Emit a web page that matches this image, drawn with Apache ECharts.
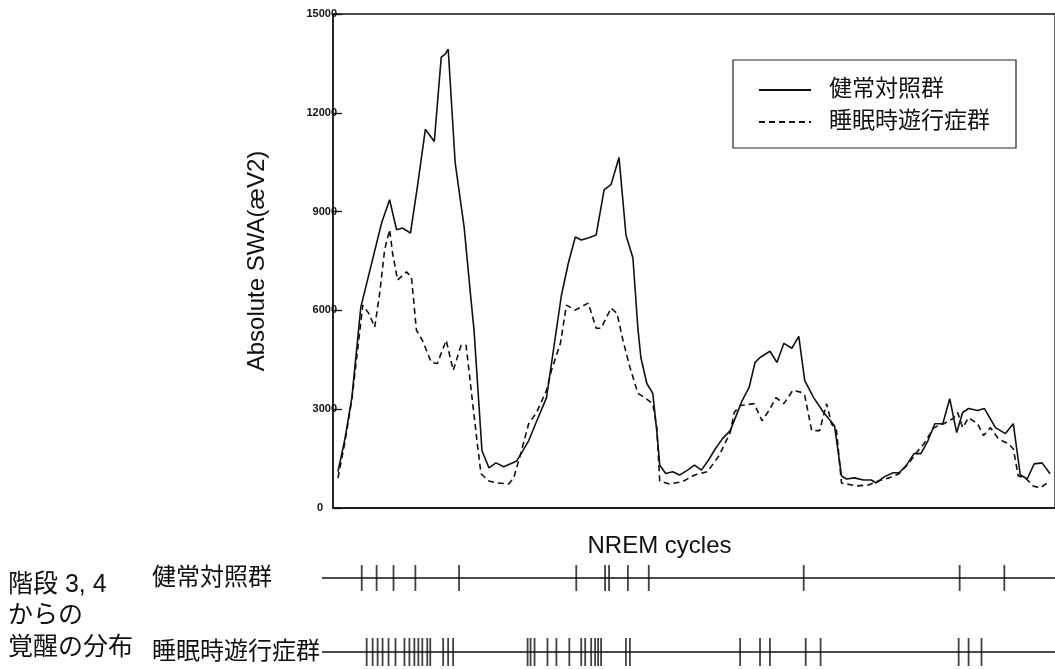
<!DOCTYPE html>
<html>
<head>
<meta charset="utf-8">
<script src="https://cdn.jsdelivr.net/npm/echarts@6/dist/echarts.min.js"></script>
<style>html,body{margin:0;padding:0;background:#fff}#c{width:1055px;height:669px}</style>
</head>
<body>
<div id="c"></div>
<script>
// ---- data ----
const seriesNames = ['健常対照群', '睡眠時遊行症群'];
// [time index (NREM epochs), absolute SWA]
const controlSWA = [[1,1100],[2.4,2100],[3.8,3350],[5.6,6100],[9.8,8660],[11.4,9360],[12.8,8450],[14,8500],[15.6,8350],[17,9760],[18.6,11500],[20.4,11130],[21.8,13690],[22.6,13780],[23.2,13930],[24.6,10490],[26.4,8540],[27.8,6310],[28.4,5400],[30,1740],[31.4,1220],[32.8,1370],[34.4,1250],[37,1430],[38,1680],[39.4,2040],[40.8,2560],[43,3350],[46,6460],[47.4,7440],[48.8,8230],[50,8140],[51.4,8200],[53,8290],[54.6,9670],[56,9820],[57.6,10640],[59,8290],[60.4,7590],[61.4,5460],[62,4570],[63.2,3780],[64.4,3480],[65.2,2350],[65.8,1300],[67,1050],[68.4,1100],[69.8,1000],[71.4,1150],[72.8,1300],[74.2,1150],[75.6,1450],[77,1800],[78.4,2100],[80,2350],[82.4,3260],[83.8,3660],[85,4420],[86,4570],[88,4760],[89.4,4420],[90.8,5000],[92.4,4850],[93.8,5210],[95,3870],[96.8,3350],[98.8,2900],[101,2500],[102.4,975],[103.4,880],[105,915],[106.8,850],[108.4,850],[109.4,760],[111,945],[112.8,1070],[114,1070],[115.4,1280],[117,1650],[118.4,1650],[119.8,2040],[121.2,2560],[122.8,2560],[124.2,3320],[125.6,2290],[126.8,2900],[128,3020],[129.8,2960],[131.2,3020],[133.4,2440],[135.4,2260],[137,2560],[138.4,1010],[139.8,880],[141.2,1340],[142.8,1370],[144.4,1040]];
const sleepwalkSWA = [[1,910],[2.4,2000],[3.8,3300],[6,6160],[7.2,5910],[8.4,5490],[9.4,6520],[10.4,7840],[11.4,8450],[12,7740],[13,6920],[14.8,7170],[15.8,7010],[16.8,5400],[18,5090],[19.8,4420],[21,4390],[22.8,5090],[24.2,4180],[25.8,4940],[26.8,4940],[28,3350],[29,2040],[29.8,1040],[31.4,820],[33,760],[35.4,730],[36.4,915],[37.8,1650],[39.4,2560],[41,2900],[43,3570],[44,4180],[45.8,5000],[47,6160],[48.8,6010],[51.4,6220],[53,5460],[54,5460],[56,6070],[57.2,5910],[58.4,5090],[59.8,4270],[61.4,3480],[62.8,3350],[64.4,3170],[65.2,2440],[65.8,820],[67.8,730],[70.4,800],[72.8,1000],[75.4,1100],[77.8,1600],[80,2300],[80.8,2900],[82,3110],[84.8,3170],[86.4,2650],[87.8,2960],[89.2,3350],[90.8,3170],[92.6,3570],[94.4,3510],[95,3420],[96.4,2350],[98,2350],[99.4,3170],[100.4,2560],[101.4,2350],[102.4,760],[105.4,670],[107.8,700],[109.8,820],[112,915],[114,1040],[116,1370],[117.8,1740],[119,1950],[121,2440],[123,2560],[124.8,2710],[125.8,2900],[126.8,2440],[128,2740],[129.8,2560],[131,2200],[132.4,2440],[134,2100],[136,1950],[137,1800],[138,975],[139.4,915],[141,670],[142.4,610],[144.4,820]];
// arousals from stage 3,4 (time index)
const controlArousals = [5.8,8.8,12.2,16.6,25.4,49,54.8,55.6,59.4,63.6,94.8,126.2,135.2];
const sleepwalkArousals = [6.8,8,9,10,11.2,12.6,14.4,15.4,16.4,17.2,18,19,19.6,22.2,23.2,24.2,39.2,39.8,40.6,43.2,45,47.6,50,50.8,52,52.8,53.4,54,59,59.8,82,86,88,95.2,98.2,126,128,130.6];
const yTicks = [0, 3000, 6000, 9000, 12000, 15000];
const yAxisTitle = 'Absolute SWA(æV2)';
const xAxisTitle = 'NREM cycles';
const sideLabel = '階段 3, 4\nからの\n覚醒の分布';

// ---- chart ----
const FONT = "'Liberation Sans', 'Noto Sans CJK JP', sans-serif";
const chart = echarts.init(document.getElementById('c'), null, {renderer: 'canvas'});
const XMAX = 145.4;
const option = {
  animation: false,
  backgroundColor: '#fff',
  textStyle: {fontFamily: FONT, color: '#111'},
  title: {
    text: sideLabel, left: 8, top: 569, padding: 0,
    textStyle: {fontSize: 25, fontWeight: 'normal', color: '#111', lineHeight: 31.5, fontFamily: FONT}
  },
  legend: {
    data: seriesNames,
    orient: 'vertical', left: 733, top: 60,
    borderColor: '#222', borderWidth: 1.2, borderRadius: 0,
    padding: [18, 26, 14, 25],
    itemWidth: 52, itemHeight: 14, itemGap: 8,
    itemStyle: {opacity: 0},
    textStyle: {fontSize: 23, lineHeight: 24, color: '#111', padding: [0, 0, 0, 13], fontFamily: FONT},
    selectedMode: false
  },
  grid: [
    {left: 333, top: 14, right: -5, height: 494, show: true, borderColor: '#111', borderWidth: 1.3, containLabel: false},
    {left: 322, top: 578, right: -5, height: 74, show: false}
  ],
  xAxis: [
    {gridIndex: 0, type: 'value', min: 0, max: XMAX,
     axisLine: {show: true, lineStyle: {color: '#111', width: 1.5}},
     axisTick: {show: false}, axisLabel: {show: false}, splitLine: {show: false},
     name: xAxisTitle, nameLocation: 'middle', nameGap: 26,
     nameTextStyle: {fontSize: 24, color: '#111', fontFamily: FONT, padding: [0, 69, 0, 0]}},
    {gridIndex: 1, type: 'value', min: -2.2, max: XMAX,
     axisLine: {show: false}, axisTick: {show: false}, axisLabel: {show: false}, splitLine: {show: false}}
  ],
  yAxis: [
    {gridIndex: 0, type: 'value', min: 0, max: 15000, interval: 3000,
     axisLine: {show: true, lineStyle: {color: '#111', width: 1.5}},
     axisTick: {show: true, inside: true, length: 9, lineStyle: {color: '#111', width: 1.3}},
     splitLine: {show: false},
     axisLabel: {margin: -4, fontSize: 11, fontWeight: 'bold', color: '#111', fontFamily: FONT,
       formatter: v => (yTicks.includes(v) ? (v === 0 ? '{z|0}' : String(v)) : ''),
       rich: {z: {fontSize: 11, fontWeight: 'bold', padding: [0, 14, 0, 0]}}},
     name: yAxisTitle, nameLocation: 'middle', nameGap: 64, nameRotate: 90,
     nameTextStyle: {fontSize: 24, color: '#111', fontFamily: FONT}},
    {gridIndex: 1, type: 'value', min: 0, max: 1, interval: 1,
     axisLine: {show: false}, axisTick: {show: false}, splitLine: {show: false},
     axisLabel: {margin: 170, align: 'left', fontSize: 24, color: '#111', fontFamily: FONT,
       formatter: v => (v === 1 ? seriesNames[0] : seriesNames[1])}}
  ],
  series: [
    {name: seriesNames[0], type: 'line', xAxisIndex: 0, yAxisIndex: 0, data: controlSWA,
     symbol: 'none', lineStyle: {color: '#111', width: 1.6, type: 'solid'}, itemStyle: {color: '#111'}},
    {name: seriesNames[1], type: 'line', xAxisIndex: 0, yAxisIndex: 0, data: sleepwalkSWA,
     symbol: 'none', lineStyle: {color: '#111', width: 1.6, type: [6, 4]}, itemStyle: {color: '#111'}},
    {name: 'rows', type: 'scatter', xAxisIndex: 1, yAxisIndex: 1, clip: false,
     data: controlArousals.map(x => [x, 1]),
     symbol: 'rect', symbolSize: [1.8, 26], itemStyle: {color: '#111'}, silent: true,
     markLine: {silent: true, symbol: 'none', label: {show: false},
       lineStyle: {color: '#111', width: 1.5, type: 'solid'},
       data: [{yAxis: 1}, {yAxis: 0}]}},
    {name: 'rows2', type: 'scatter', xAxisIndex: 1, yAxisIndex: 1, clip: false,
     data: sleepwalkArousals.map(x => [x, 0]),
     symbol: 'rect', symbolSize: [1.8, 28], itemStyle: {color: '#111'}, silent: true}
  ]
};
chart.setOption(option);
</script>
</body>
</html>
